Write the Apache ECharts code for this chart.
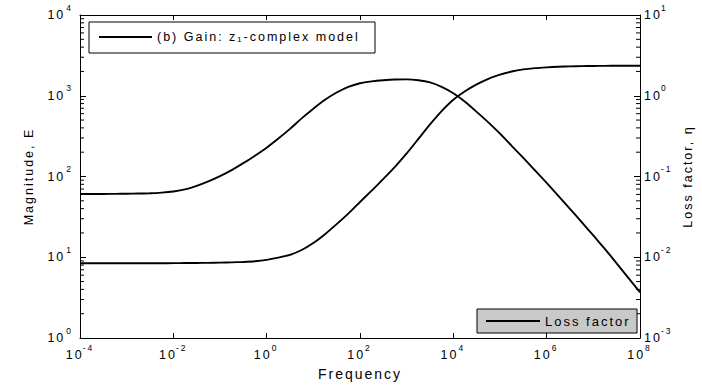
<!DOCTYPE html>
<html>
<head>
<meta charset="utf-8">
<script src="https://cdn.jsdelivr.net/npm/echarts@6/dist/echarts.min.js"></script>
<style>
html,body{margin:0;padding:0;background:#fff;}
#c{width:702px;height:386px;}
#c svg text{letter-spacing:2px;}
</style>
</head>
<body>
<div id="c"></div>
<script>
// Frequencies (quarter-decade samples, 1e-4 .. 1e8)
const freq = [
  1e-4, 1.78e-4, 3.16e-4, 5.62e-4, 1e-3, 1.78e-3, 3.16e-3, 5.62e-3,
  1e-2, 1.78e-2, 3.16e-2, 5.62e-2, 0.1, 0.178, 0.316, 0.562,
  1, 1.78, 3.16, 5.62, 10, 17.8, 31.6, 56.2,
  100, 178, 316, 562, 1e3, 1.78e3, 3.16e3, 5.62e3,
  1e4, 1.78e4, 3.16e4, 5.62e4, 1e5, 1.78e5, 3.16e5, 5.62e5,
  1e6, 1.78e6, 3.16e6, 5.62e6, 1e7, 1.78e7, 3.16e7, 5.62e7, 1e8
];
// Magnitude E (left axis)
const magnitude = [
  8.41, 8.41, 8.41, 8.42, 8.42, 8.43, 8.43, 8.44,
  8.45, 8.47, 8.49, 8.53, 8.57, 8.65, 8.75, 8.91,
  9.27, 9.89, 10.7, 12.3, 15.0, 19.3, 25.7, 34.7,
  48.4, 66.8, 93.3, 131.8, 192.8, 291.7, 441.6, 645.7,
  891, 1135, 1380, 1622, 1828, 1995, 2118, 2198,
  2249, 2286, 2312, 2328, 2339, 2345, 2350, 2353, 2355
];
// Loss factor eta (right axis)
const lossFactor = [
  0.0607, 0.0607, 0.0608, 0.0610, 0.0612, 0.0615, 0.0619, 0.0631,
  0.0653, 0.0692, 0.0767, 0.0871, 0.1012, 0.1202, 0.1462, 0.1811,
  0.2275, 0.2951, 0.389, 0.525, 0.692, 0.891, 1.096, 1.288,
  1.429, 1.507, 1.556, 1.589, 1.596, 1.556, 1.462, 1.288,
  1.072, 0.841, 0.631, 0.468, 0.339, 0.240, 0.170, 0.119,
  0.0832, 0.0575, 0.0398, 0.0272, 0.0186, 0.0126, 0.00841, 0.00556, 0.00367
];
const gainName = '(b) Gain: z\u2081-complex model';
const lossName = 'Loss factor';
const xTitle = 'Frequency';
const yLeftTitle = 'Magnitude, E';
const yRightTitle = 'Loss factor, \u03b7';

const FONT = '"Liberation Sans", Arial, Helvetica, sans-serif';

// log minor tick positions (2..9 x decade)
function minorTicks(kFrom, kTo) {
  const out = [];
  for (let k = kFrom; k < kTo; k++) for (let m = 2; m <= 9; m++) out.push(+(m * Math.pow(10, k)).toPrecision(3));
  return out;
}
const minorLeft = minorTicks(0, 4);
const minorRight = minorTicks(-3, 1);

const supLabel = v => '{b|10}{s|' + Math.round(Math.log10(v)) + '}';
const supRich = {
  b: {fontSize: 12.5, fontFamily: FONT, color: '#000', verticalAlign: 'middle', lineHeight: 14},
  s: {fontSize: 8.5, fontFamily: FONT, color: '#000', verticalAlign: 'bottom', lineHeight: 10, padding: [0, 0, 10, 3]}
};

const chart = echarts.init(document.getElementById('c'), null, {renderer: 'svg', width: 702, height: 386});

const axisLineStyle = {show: true, lineStyle: {color: '#000', width: 1}};

chart.setOption({
  animation: false,
  backgroundColor: '#fff',
  textStyle: {fontFamily: FONT, color: '#000'},
  grid: {left: 80, right: 59, top: 15, bottom: 48, containLabel: false},
  legend: [
    {
      data: [gainName], left: 89, top: 22, orient: 'horizontal',
      backgroundColor: '#fff', borderColor: '#000', borderWidth: 1, borderRadius: 0,
      padding: [8, 6, 9, 10], itemWidth: 53, itemHeight: 2, icon: 'rect',
      itemStyle: {color: '#000'}, selectedMode: false,
      textStyle: {fontSize: 12.5, fontFamily: FONT, color: '#000', width: 212, lineHeight: 14}
    },
    {
      data: [lossName], left: 477, top: 309, orient: 'horizontal',
      backgroundColor: '#c9c9c9', borderColor: '#000', borderWidth: 1, borderRadius: 0,
      padding: [5, 6, 5, 9], itemWidth: 54, itemHeight: 2, icon: 'rect',
      itemStyle: {color: '#000'}, selectedMode: false,
      textStyle: {fontSize: 13, fontFamily: FONT, color: '#000', width: 86, lineHeight: 14}
    }
  ],
  xAxis: [
    {
      type: 'log', logBase: 10, min: 1e-4, max: 1e8, interval: 2, position: 'bottom',
      name: xTitle, nameLocation: 'middle', nameGap: 27,
      nameTextStyle: {fontSize: 14, fontFamily: FONT, color: '#000'},
      axisLine: axisLineStyle,
      axisTick: {show: true, inside: true, length: 5, lineStyle: {color: '#000'}},
      axisLabel: {show: true, margin: 10, formatter: supLabel, rich: supRich},
      splitLine: {show: false}, minorTick: {show: false}
    },
    {
      type: 'log', logBase: 10, min: 1e-4, max: 1e8, interval: 2, position: 'top',
      axisLine: axisLineStyle,
      axisTick: {show: true, inside: true, length: 5, lineStyle: {color: '#000'}},
      axisLabel: {show: false}, splitLine: {show: false}
    }
  ],
  yAxis: [
    {
      type: 'log', logBase: 10, min: 1, max: 1e4, interval: 1, position: 'left',
      name: yLeftTitle, nameLocation: 'middle', nameGap: 45, nameRotate: 90,
      nameTextStyle: {fontSize: 12.5, fontFamily: FONT, color: '#000'},
      axisLine: axisLineStyle,
      axisTick: {show: true, inside: true, length: 6, lineStyle: {color: '#000'}},
      axisLabel: {show: true, margin: 7, formatter: supLabel, rich: supRich},
      splitLine: {show: false}
    },
    {
      type: 'log', logBase: 10, min: 1e-3, max: 10, interval: 1, position: 'right',
      name: yRightTitle, nameLocation: 'middle', nameGap: 41, nameRotate: 90,
      nameTextStyle: {fontSize: 12.5, fontFamily: FONT, color: '#000'},
      axisLine: axisLineStyle,
      axisTick: {show: true, inside: true, length: 6, lineStyle: {color: '#000'}},
      axisLabel: {show: true, margin: 4, formatter: supLabel, rich: supRich},
      splitLine: {show: false}
    }
  ],
  series: [
    {
      name: gainName, type: 'line', xAxisIndex: 0, yAxisIndex: 0,
      data: freq.map((f, i) => [f, magnitude[i]]),
      symbol: 'none', smooth: 0.15, lineStyle: {color: '#000', width: 1.9}, itemStyle: {color: '#000'}
    },
    {
      name: lossName, type: 'line', xAxisIndex: 0, yAxisIndex: 1,
      data: freq.map((f, i) => [f, lossFactor[i]]),
      symbol: 'none', smooth: 0.15, lineStyle: {color: '#000', width: 1.9}, itemStyle: {color: '#000'}
    },
    {
      type: 'scatter', xAxisIndex: 0, yAxisIndex: 0, silent: true, clip: false,
      data: minorLeft.map(v => [1e-4, v]),
      symbol: 'rect', symbolSize: [4, 1], symbolOffset: [2, 0], itemStyle: {color: '#000', opacity: 1}
    },
    {
      type: 'scatter', xAxisIndex: 0, yAxisIndex: 1, silent: true, clip: false,
      data: minorRight.map(v => [1e8, v]),
      symbol: 'rect', symbolSize: [4, 1], symbolOffset: [-2, 0], itemStyle: {color: '#000', opacity: 1}
    }
  ]
});
</script>
</body>
</html>
